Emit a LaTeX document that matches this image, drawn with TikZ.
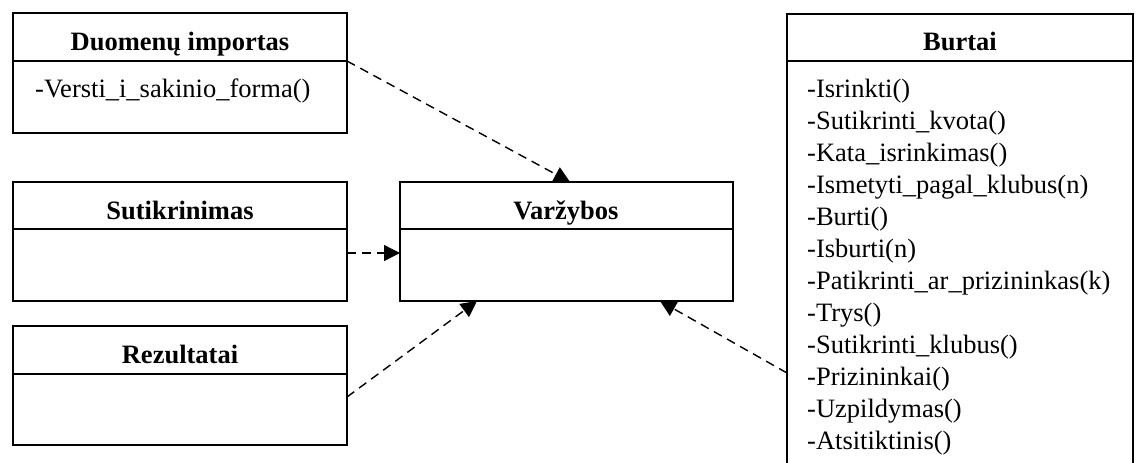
\documentclass[tikz,border=0pt]{standalone}
\usepackage{fontspec}
\setmainfont{Liberation Serif}
\usetikzlibrary{arrows.meta,calc}
\begin{document}
\begin{tikzpicture}[x=1pt,y=-1pt,
  box/.style={draw, line width=1.5pt, inner sep=0pt, outer sep=0pt, anchor=north west, minimum width=334pt},
  hdr/.style={font=\fontsize{26.5}{30}\selectfont\bfseries, inner sep=0pt, anchor=base},
  item/.style={font=\fontsize{26.5}{32}\selectfont, inner sep=0pt, anchor=base west},
  dep/.style={line width=1.4pt, dash pattern=on 9pt off 6pt, -{Triangle[length=16pt,width=16pt]}}]
\useasboundingbox (0,0) rectangle (1141,463);
% boxes
\node[box, minimum height=120pt] (duom) at (13,13) {};
\node[box, minimum height=119pt] (sut) at (13,182) {};
\node[box, minimum height=119pt] (rez) at (13,326) {};
\node[box, minimum height=119pt, minimum width=333pt] (varz) at (400,182) {};
\node[box, minimum height=480pt, minimum width=346pt] (burt) at (787,14) {};
% header separators
\draw[line width=1.5pt] ($(duom.north west)+(0,48)$) coordinate (duomL) -- ($(duom.north east)+(0,48)$) coordinate (duomR);
\draw[line width=1.5pt] ($(sut.north west)+(0,47)$) -- ($(sut.north east)+(0,47)$);
\draw[line width=1.5pt] ($(rez.north west)+(0,48)$) -- ($(rez.north east)+(0,48)$);
\draw[line width=1.5pt] ($(varz.north west)+(0,47)$) -- ($(varz.north east)+(0,47)$);
\draw[line width=1.5pt] ($(burt.north west)+(0,47)$) -- ($(burt.north east)+(0,47)$);
% headers
\node[hdr] (tduom) at (180,50) {Duomenų importas};
\node[hdr] (tsut) at (180,219) {Sutikrinimas};
\node[hdr] (trez) at (180,363) {Rezultatai};
\node[hdr] (tvarz) at (566,219) {Varžybos};
\node[hdr] (tburt) at (960,50) {Burtai};
% items
\node[item] (iduom) at (35,97) {-Versti\_i\_sakinio\_forma()};
\foreach \t [count=\i from 0] in {-Isrinkti(),-Sutikrinti\_kvota(),-Kata\_isrinkimas(),-Ismetyti\_pagal\_klubus(n),-Burti(),-Isburti(n),-Patikrinti\_ar\_prizininkas(k),-Trys(),-Sutikrinti\_klubus(),-Prizininkai(),-Uzpildymas(),-Atsitiktinis()}
  \node[item] (ib\i) at (807,{97+32*\i}) {\t};
% connectors
\draw[dep] (duomR) -- ($(varz.north west)+(170,0)$);
\draw[dep] ($(sut.north east)+(0,71)$) -- ($(varz.north west)+(0,71)$);
\draw[dep] ($(rez.north east)+(0,71)$) -- ($(varz.south west)+(77,0)$);
\draw[dep] ($(burt.north west)+(0,359)$) -- ($(varz.south west)+(260,0)$);
\end{tikzpicture}
\end{document}
